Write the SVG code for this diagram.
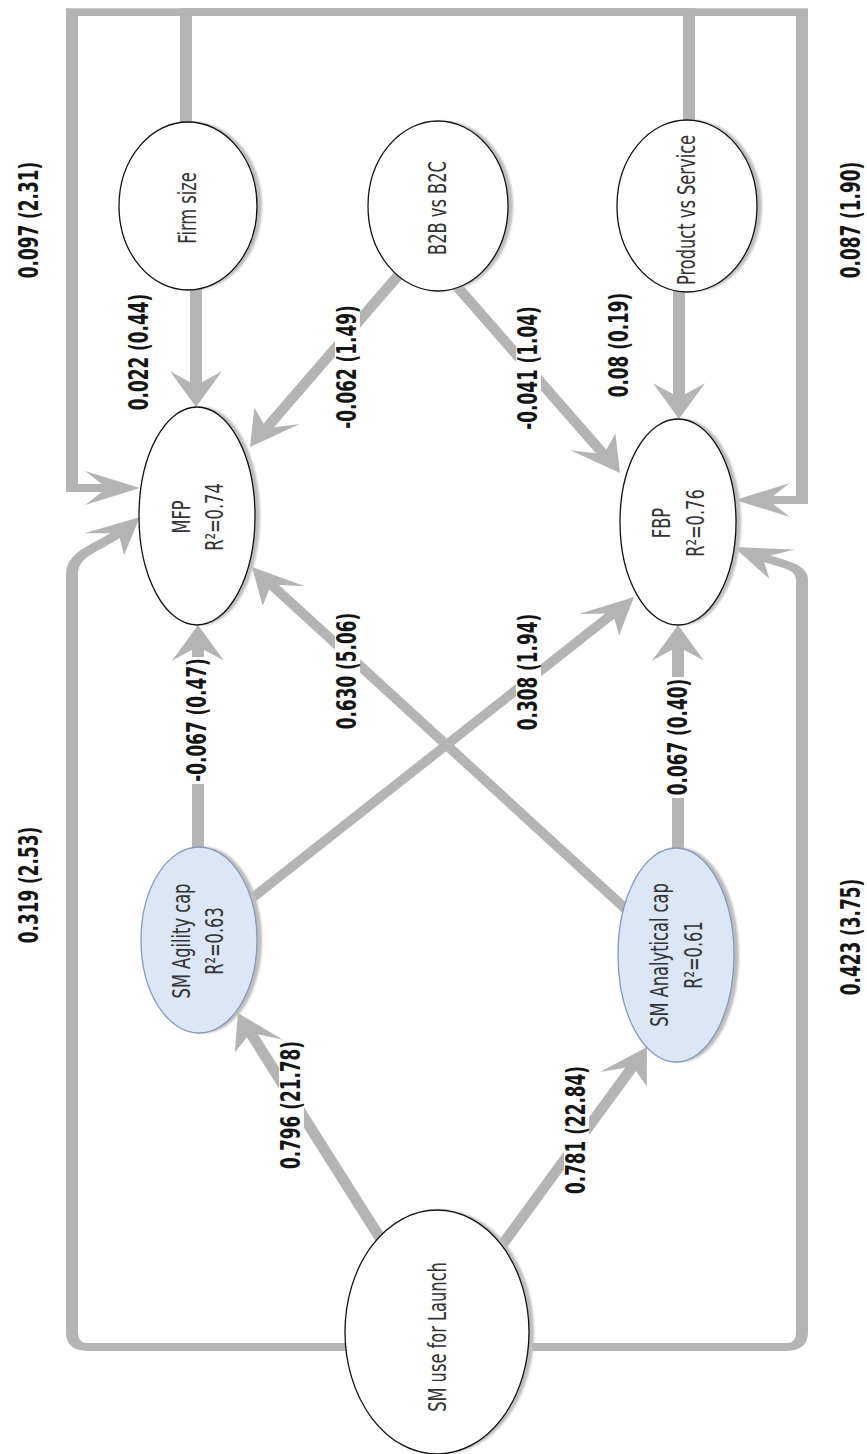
<svg xmlns="http://www.w3.org/2000/svg" width="867" height="1454" viewBox="0 0 867 1454">
  <defs>
    <style>
      .c { fill: none; stroke: #b4b4b4; stroke-width: 12; stroke-linejoin: miter; marker-end: url(#ah); }
      .sh { fill: #bdbdbd; filter: url(#soft); }
      .w { fill: #ffffff; stroke: #111111; stroke-width: 1.3; }
      .b { fill: #dbe6f7; stroke: #8499bd; stroke-width: 1.3; }
      .nt { font-family: "DejaVu Sans", "Liberation Sans", sans-serif; font-size: 25px; fill: #333333; text-anchor: middle; }
      .lb { font-family: "DejaVu Sans", "Liberation Sans", sans-serif; font-weight: bold; font-size: 26px; fill: #151515; text-anchor: middle; }
      .bg { fill: #ffffff; }
    </style>
    <filter id="soft" x="-10%" y="-10%" width="130%" height="120%">
      <feGaussianBlur stdDeviation="1.2"/>
    </filter>
    <!-- barbed arrowhead; the path ends at the notch, the tip sits 33 units further on -->
    <marker id="ah" markerUnits="userSpaceOnUse" orient="auto" refX="-33" refY="0" markerWidth="60" markerHeight="60" overflow="visible">
      <path d="M0,0 L-55,-26 L-33,0 L-55,26 Z" fill="#b4b4b4"/>
    </marker>
  </defs>

  <rect x="0" y="0" width="867" height="1454" fill="#ffffff"/>

  <!-- connectors are drawn in an unsquashed frame; the group squashes y by 0.65 -->
  <g id="connectors" transform="scale(1,0.65)">
    <path class="c" d="M689,200 V18.5 H72 V750.8 H107"/>
    <path class="c" d="M186,200 V18.5 H802 V769.2 H768"/>
    <path class="c" d="M196,440 V593.2"/>
    <path class="c" d="M679,440 V611.6"/>
    <path class="c" d="M418,388.6 L266.2,658.9"/>
    <path class="c" d="M420,375.8 L603.7,699"/>
    <path class="c" d="M198,1446 V994.5"/>
    <path class="c" d="M678,1469 V994.5"/>
    <path class="c" d="M199,1446.2 L613,944"/>
    <path class="c" d="M676,1469.2 L271.1,899.2"/>
    <path class="c" d="M437,2043.1 L250.5,1589"/>
    <path class="c" d="M437,2052.3 L632.8,1640.6"/>
    <path class="c" d="M437,2072.3 H87 Q72,2072.3 72,2050 V881.5 C72,850 102.3,839.5 118.5,820.5"/>
    <path class="c" d="M437,2072.3 H787 Q802,2072.3 802,2050 V892.3 C802,870 780.3,867.2 762.8,857.5"/>
  </g>

  <!-- path coefficients -->
  <g id="labels">
    <g><rect class="bg" x="17" y="160" width="25" height="121"/><text class="lb" transform="translate(38,220) scale(1,0.65) rotate(-90)">0.097 (2.31)</text></g>
    <g><rect class="bg" x="839" y="160" width="25" height="121"/><text class="lb" transform="translate(860,220) scale(1,0.65) rotate(-90)">0.087 (1.90)</text></g>
    <g><rect class="bg" x="127" y="292" width="25" height="121"/><text class="lb" transform="translate(148,352) scale(1,0.65) rotate(-90)">0.022 (0.44)</text></g>
    <g><rect class="bg" x="335" y="303" width="25" height="128"/><text class="lb" transform="translate(356,367) scale(1,0.65) rotate(-90)">-0.062 (1.49)</text></g>
    <g><rect class="bg" x="516" y="304" width="25" height="128"/><text class="lb" transform="translate(537,368) scale(1,0.65) rotate(-90)">-0.041 (1.04)</text></g>
    <g><rect class="bg" x="607" y="291" width="25" height="109"/><text class="lb" transform="translate(628,345) scale(1,0.65) rotate(-90)">0.08 (0.19)</text></g>
    <g><rect class="bg" x="335" y="611" width="25" height="121"/><text class="lb" transform="translate(356,671) scale(1,0.65) rotate(-90)">0.630 (5.06)</text></g>
    <g><rect class="bg" x="516" y="612" width="25" height="121"/><text class="lb" transform="translate(537,672) scale(1,0.65) rotate(-90)">0.308 (1.94)</text></g>
    <g><rect class="bg" x="185" y="657" width="25" height="127"/><text class="lb" transform="translate(206,720) scale(1,0.65) rotate(-90)">-0.067 (0.47)</text></g>
    <g><rect class="bg" x="666" y="677" width="25" height="121"/><text class="lb" transform="translate(687,737) scale(1,0.65) rotate(-90)">0.067 (0.40)</text></g>
    <g><rect class="bg" x="17" y="825" width="25" height="121"/><text class="lb" transform="translate(38,885) scale(1,0.65) rotate(-90)">0.319 (2.53)</text></g>
    <g><rect class="bg" x="839" y="877" width="25" height="121"/><text class="lb" transform="translate(860,937) scale(1,0.65) rotate(-90)">0.423 (3.75)</text></g>
    <g><rect class="bg" x="279" y="1040" width="25" height="131"/><text class="lb" transform="translate(300,1105) scale(1,0.65) rotate(-90)">0.796 (21.78)</text></g>
    <g><rect class="bg" x="564" y="1065" width="25" height="131"/><text class="lb" transform="translate(585,1130) scale(1,0.65) rotate(-90)">0.781 (22.84)</text></g>
  </g>

  <g id="n-firm">
    <ellipse class="sh" cx="193" cy="206" rx="69" ry="84"/>
    <ellipse class="w" cx="188" cy="206" rx="69" ry="84"/>
    <text class="nt" transform="translate(196,208) scale(1,0.65) rotate(-90)">Firm size</text>
  </g>
  <g id="n-b2b">
    <ellipse class="sh" cx="443" cy="206" rx="70" ry="85"/>
    <ellipse class="w" cx="438" cy="206" rx="70" ry="85"/>
    <text class="nt" transform="translate(446,208) scale(1,0.65) rotate(-90)">B2B vs B2C</text>
  </g>
  <g id="n-product">
    <ellipse class="sh" cx="692" cy="206" rx="70" ry="86"/>
    <ellipse class="w" cx="687" cy="206" rx="70" ry="86"/>
    <text class="nt" transform="translate(695,210) scale(1,0.65) rotate(-90)">Product vs Service</text>
  </g>
  <g id="n-mfp">
    <ellipse class="sh" cx="202" cy="516" rx="58" ry="109"/>
    <ellipse class="w" cx="197" cy="516" rx="58" ry="109"/>
    <text class="nt" transform="translate(190,517) scale(1,0.65) rotate(-90)"><tspan x="0">MFP</tspan><tspan x="0" dy="33">R²=0.74</tspan></text>
  </g>
  <g id="n-fbp">
    <ellipse class="sh" cx="683" cy="522" rx="58" ry="103"/>
    <ellipse class="w" cx="678" cy="522" rx="58" ry="103"/>
    <text class="nt" transform="translate(670,523) scale(1,0.65) rotate(-90)"><tspan x="0">FBP</tspan><tspan x="0" dy="34">R²=0.76</tspan></text>
  </g>
  <g id="n-agility">
    <ellipse class="sh" cx="204" cy="940" rx="58" ry="93"/>
    <ellipse class="b" cx="199" cy="940" rx="58" ry="93"/>
    <text class="nt" transform="translate(190,941) scale(1,0.65) rotate(-90)"><tspan x="0">SM Agility cap</tspan><tspan x="0" dy="33">R²=0.63</tspan></text>
  </g>
  <g id="n-analytical">
    <ellipse class="sh" cx="681" cy="955" rx="58" ry="107"/>
    <ellipse class="b" cx="676" cy="955" rx="58" ry="107"/>
    <text class="nt" transform="translate(668,955) scale(1,0.65) rotate(-90)"><tspan x="0">SM Analytical cap</tspan><tspan x="0" dy="34">R²=0.61</tspan></text>
  </g>
  <g id="n-launch">
    <ellipse class="sh" cx="442" cy="1332" rx="92" ry="122"/>
    <ellipse class="w" cx="437" cy="1332" rx="92" ry="122"/>
    <text class="nt" transform="translate(446,1337) scale(1,0.65) rotate(-90)">SM use for Launch</text>
  </g>
</svg>
